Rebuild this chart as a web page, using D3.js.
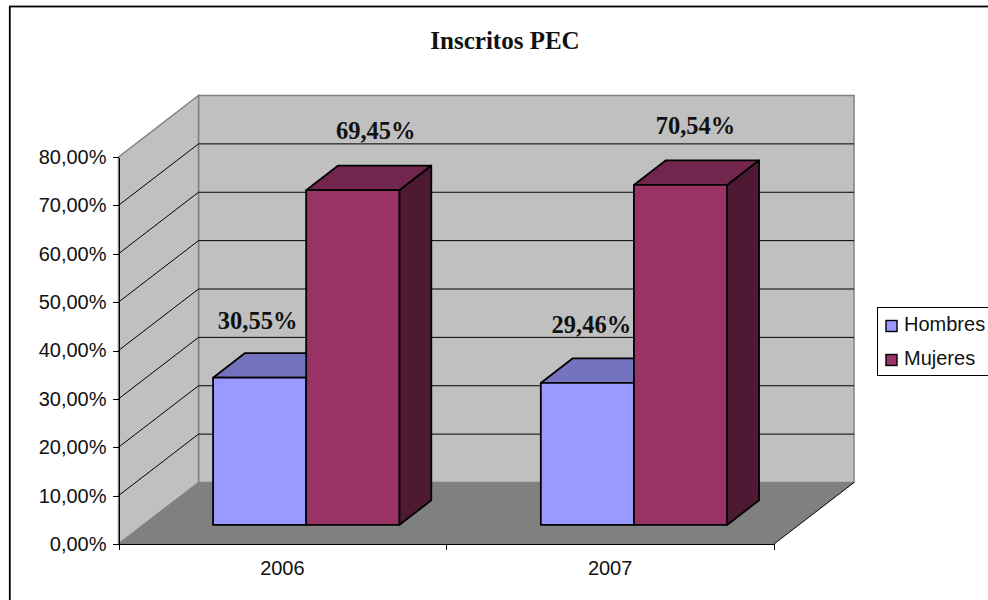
<!DOCTYPE html>
<html lang="es">
<head>
  <meta charset="UTF-8">
  <script src="https://d3js.org/d3.v7.min.js"></script>
  <title>Inscritos PEC</title>
  <style>
    body { margin: 0; background: #fff; }
    svg { display: block; }
    .axis text { font-family: "Liberation Sans", sans-serif; font-size: 20px; fill: #111; }
    .axis path, .axis line { stroke: #000; stroke-width: 1px; shape-rendering: crispEdges; }
    .label { font-family: "Liberation Serif", serif; font-weight: bold; fill: #111; }
  </style>
</head>
<body>
  <svg width="988" height="600"></svg>
  <script>
    const categories = ['2006', '2007'];
    const seriesNames = ['Hombres', 'Mujeres'];
    const hombres = [30.55, 29.46];
    const mujeres = [69.45, 70.54];
    const yTicks = [0, 10, 20, 30, 40, 50, 60, 70, 80];

    const colors = {
      Hombres: { front: '#9999ff', top: '#7373bf' },
      Mujeres: { front: '#993366', top: '#73264d', side: '#4d1933' }
    };

    const svg = d3.select('svg');

    const yScale = d3.scaleLinear().domain([0, 80]).range([544, 157]);
    // bars come out a little shorter than the wall ticks in the original
    const barScale = d3.scaleLinear().domain([0, 80]).range([544, 158.4]);
    const x0 = d3.scaleBand().domain(categories).range([118.5, 774]);
    const x1 = d3.scaleBand().domain(seriesNames).range([0, x0.bandwidth()]).paddingInner(0).paddingOuter(0.76);
    const barShift = -1;

    // t: 0 = front of the floor, 1 = back wall
    const depthX = d3.scaleLinear().domain([0, 1]).range([0, 80]);
    const depthY = d3.scaleLinear().domain([0, 1]).range([0, -61.5]);
    const px = (x, t) => x + depthX(t);
    const py = (v, t) => yScale(v) + depthY(t);
    const barY = (v, t) => barScale(v) + depthY(t);
    const pts = (arr) => arr.map(p => p.join(',')).join(' ');

    // outer frame, cut by the window on the right and bottom
    svg.append('rect')
      .attr('x', 9.8).attr('y', 6.5)
      .attr('width', 1100).attr('height', 800)
      .attr('fill', '#fff').attr('stroke', '#000').attr('stroke-width', 1.8);

    svg.append('text').attr('class', 'label')
      .attr('x', 505).attr('y', 49)
      .attr('text-anchor', 'middle')
      .style('font-size', '25px')
      .text('Inscritos PEC');

    const xL = x0.range()[0], xR = x0.range()[1];
    const wall = svg.append('g');

    // back wall
    wall.append('polygon')
      .attr('points', pts([[px(xL, 1), py(80, 1)], [px(xR, 1), py(80, 1)], [px(xR, 1), py(0, 1)], [px(xL, 1), py(0, 1)]]))
      .attr('fill', '#c0c0c0').attr('stroke', '#808080').attr('stroke-width', 1.5);
    // side wall
    wall.append('polygon')
      .attr('points', pts([[px(xL, 0), py(80, 0)], [px(xL, 1), py(80, 1)], [px(xL, 1), py(0, 1)], [px(xL, 0), py(0, 0)]]))
      .attr('fill', '#c0c0c0').attr('stroke', '#808080').attr('stroke-width', 1.5);
    // floor
    wall.append('polygon')
      .attr('points', pts([[px(xL, 0), py(0, 0)], [px(xL, 1), py(0, 1)], [px(xR, 1), py(0, 1)], [px(xR, 0), py(0, 0)]]))
      .attr('fill', '#808080');
    wall.append('line')
      .attr('x1', px(xR, 0)).attr('y1', py(0, 0))
      .attr('x2', px(xR, 1)).attr('y2', py(0, 1))
      .attr('stroke', '#000').attr('stroke-width', 1);

    // gridlines on side and back wall
    wall.selectAll('polyline.grid')
      .data(yTicks.filter(d => d > 0 && d < 80))
      .enter()
      .append('polyline')
      .attr('class', 'grid')
      .attr('points', d => pts([[px(xL, 0), py(d, 0)], [px(xL, 1), py(d, 1)], [px(xR, 1), py(d, 1)]]))
      .attr('fill', 'none').attr('stroke', '#000').attr('stroke-width', 1);

    // bars
    const tFront = 0.31, tBack = 0.71;
    const barData = [];
    categories.forEach((c, i) => {
      barData.push({ cat: c, name: 'Hombres', value: hombres[i] });
      barData.push({ cat: c, name: 'Mujeres', value: mujeres[i] });
    });

    svg.selectAll('g.bar')
      .data(barData)
      .enter()
      .append('g')
      .attr('class', 'bar')
      .each(function(d) {
        const g = d3.select(this);
        const a = x0(d.cat) + x1(d.name) + barShift;
        const b = a + x1.bandwidth();
        const style = (sel, fill) => sel.attr('fill', fill).attr('stroke', '#000')
          .attr('stroke-width', 1.8).attr('stroke-linejoin', 'round');

        if (colors[d.name].side) {
          style(g.append('polygon'), colors[d.name].side)
            .attr('points', pts([[px(b, tFront), barY(d.value, tFront)], [px(b, tBack), barY(d.value, tBack)], [px(b, tBack), barY(0, tBack)], [px(b, tFront), barY(0, tFront)]]));
        }
        style(g.append('polygon'), colors[d.name].top)
          .attr('points', pts([[px(a, tFront), barY(d.value, tFront)], [px(a, tBack), barY(d.value, tBack)], [px(b, tBack), barY(d.value, tBack)], [px(b, tFront), barY(d.value, tFront)]]));
        style(g.append('polygon'), colors[d.name].front)
          .attr('points', pts([[px(a, tFront), barY(d.value, tFront)], [px(b, tFront), barY(d.value, tFront)], [px(b, tFront), barY(0, tFront)], [px(a, tFront), barY(0, tFront)]]));
      });

    // axes
    const yAxis = d3.axisLeft(yScale)
      .tickValues(yTicks)
      .tickSize(6)
      .tickPadding(6)
      .tickSizeOuter(0)
      .tickFormat(d => d3.format('.2f')(d).replace('.', ',') + '%');
    svg.append('g').attr('class', 'axis')
      .attr('transform', `translate(${xL},0)`)
      .call(yAxis);

    // ticks between the categories, labels centred in each band
    const edgeScale = d3.scaleLinear().domain([0, categories.length]).range([xL, xR]);
    svg.append('g').attr('class', 'axis')
      .attr('transform', `translate(0,${yScale(0)})`)
      .call(d3.axisBottom(edgeScale).ticks(categories.length).tickSize(6).tickSizeOuter(0).tickFormat(''));
    const xAxisG = svg.append('g').attr('class', 'axis')
      .attr('transform', `translate(0,${yScale(0)})`)
      .call(d3.axisBottom(x0).tickSize(0).tickPadding(17));
    xAxisG.select('path.domain').style('display', 'none');

    // data labels were dragged by hand in the original, so each has its own nudge
    const labelNudge = [[-3, -49], [22, -51], [3, -50], [14, -51]];
    svg.selectAll('text.value')
      .data(barData)
      .enter()
      .append('text')
      .attr('class', 'label value')
      .attr('x', (d, i) => px(x0(d.cat) + x1(d.name) + x1.bandwidth() / 2, tFront) + labelNudge[i][0])
      .attr('y', (d, i) => barY(d.value, tFront) + labelNudge[i][1])
      .attr('text-anchor', 'middle')
      .style('font-size', '24.5px')
      .text(d => d3.format('.2f')(d.value).replace('.', ',') + '%');

    // legend, runs off the right edge
    const legend = svg.append('g').attr('transform', 'translate(877.5,307.5)');
    legend.append('rect')
      .attr('width', 140).attr('height', 68)
      .attr('fill', '#fff').attr('stroke', '#000').attr('stroke-width', 1);
    const legendY = d3.scalePoint().domain(seriesNames).range([18, 52]);
    seriesNames.forEach(name => {
      legend.append('rect')
        .attr('x', 8.5).attr('y', legendY(name) - 5)
        .attr('width', 11).attr('height', 11)
        .attr('fill', colors[name].front).attr('stroke', '#000').attr('stroke-width', 1.4);
      legend.append('text')
        .attr('x', 26.5).attr('y', legendY(name) + 5.5)
        .style('font-family', '"Liberation Sans", sans-serif')
        .style('font-size', '20px').style('fill', '#111')
        .text(name);
    });
  </script>
</body>
</html>
